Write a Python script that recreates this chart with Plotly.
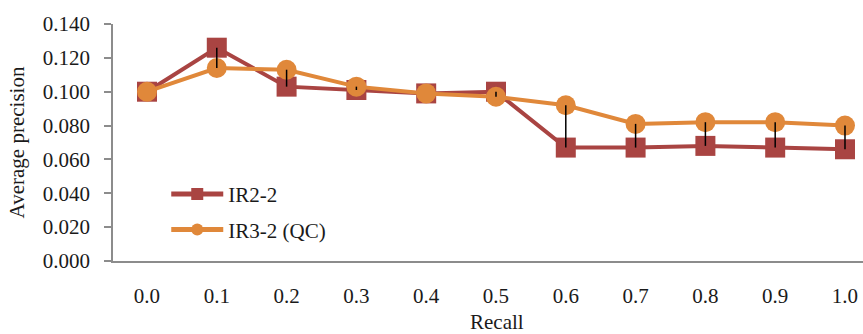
import plotly.graph_objects as go

recall = [0.0, 0.1, 0.2, 0.3, 0.4, 0.5, 0.6, 0.7, 0.8, 0.9, 1.0]
tick_labels = ["0.0", "0.1", "0.2", "0.3", "0.4", "0.5", "0.6", "0.7", "0.8", "0.9", "1.0"]
ir2_2 = [0.100, 0.126, 0.103, 0.101, 0.099, 0.100, 0.067, 0.067, 0.068, 0.067, 0.066]
ir3_2_qc = [0.100, 0.114, 0.113, 0.103, 0.099, 0.097, 0.092, 0.081, 0.082, 0.082, 0.080]

RED = "#A94442"
ORANGE = "#E0883A"
FONT = "Liberation Serif"

fig = go.Figure()

fig.add_trace(go.Scatter(
    x=recall, y=ir2_2, name="IR2-2", mode="lines+markers",
    line=dict(color=RED, width=4),
    marker=dict(symbol="square", size=20, color=RED),
    legendgroup="a",
))
fig.add_trace(go.Scatter(
    x=recall, y=ir3_2_qc, name="IR3-2 (QC)", mode="lines+markers",
    line=dict(color=ORANGE, width=4),
    marker=dict(symbol="circle", size=20, color=ORANGE),
    legendgroup="b",
))

# high-low lines joining the two series at each recall level
hx, hy = [], []
for x, a, b in zip(recall, ir2_2, ir3_2_qc):
    hx += [x, x, None]
    hy += [a, b, None]
fig.add_trace(go.Scatter(
    x=hx, y=hy, mode="lines", line=dict(color="black", width=1.5),
    showlegend=False, hoverinfo="skip",
))

fig.update_layout(
    width=863, height=334,
    margin=dict(l=113, r=0, t=24, b=73),
    paper_bgcolor="white", plot_bgcolor="white",
    font=dict(family=FONT, size=21, color="#1a1a1a"),
    showlegend=True,
    legend=dict(
        x=0.071, y=0.207, xanchor="left", yanchor="middle",
        bgcolor="rgba(0,0,0,0)", itemsizing="constant", itemwidth=52,
        tracegroupgap=5, font=dict(family=FONT, size=21),
    ),
    xaxis=dict(
        range=[-0.0487, 1.0258],
        tickvals=recall, ticktext=tick_labels,
        showgrid=False, zeroline=False,
        showline=True, linecolor="#8c8c8c", linewidth=1.5,
        ticks="", ticklabelstandoff=15,
        tickfont=dict(family=FONT, size=21),
    ),
    yaxis=dict(
        range=[0, 0.140], dtick=0.020, tickformat=".3f",
        showgrid=False, zeroline=False,
        showline=True, linecolor="#8c8c8c", linewidth=1.5,
        ticks="outside", ticklen=7, tickcolor="#8c8c8c", tickwidth=1.5,
        ticklabelstandoff=10,
        tickfont=dict(family=FONT, size=21),
        title=dict(text="Average precision", font=dict(family=FONT, size=21), standoff=12),
    ),
    annotations=[dict(
        text="Recall", xref="paper", yref="paper", x=0.512, y=-0.315,
        xanchor="center", yanchor="bottom", showarrow=False,
        font=dict(family=FONT, size=21),
    )],
)

fig.write_html("out.html")
